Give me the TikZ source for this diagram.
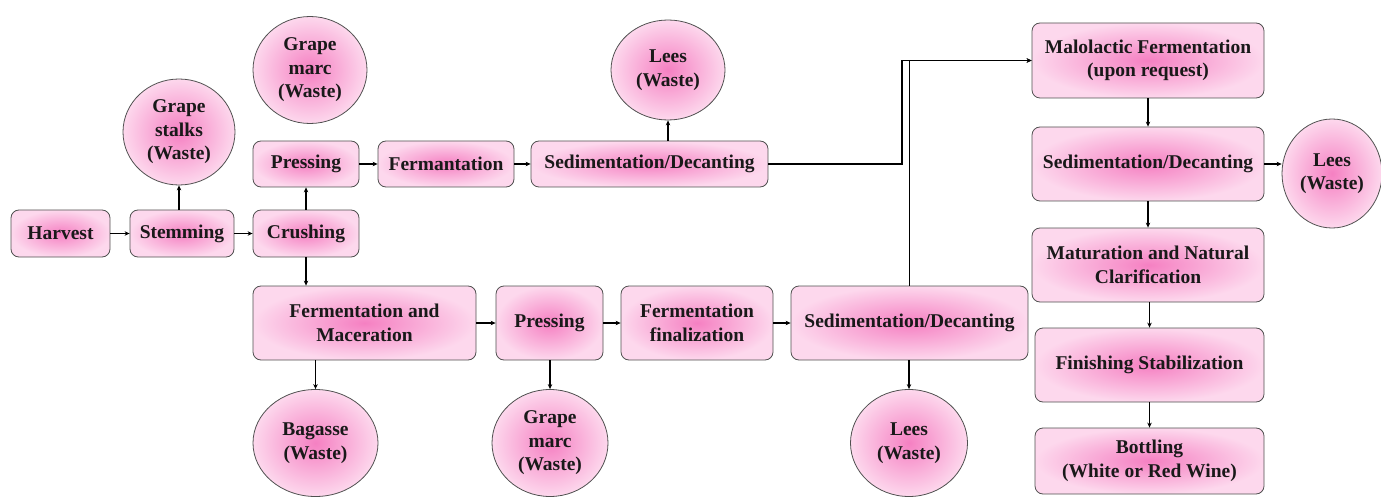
\documentclass[tikz,border=0pt]{standalone}
\usepackage{fontspec}
\setmainfont{Liberation Serif}
\usetikzlibrary{arrows.meta,shapes.geometric,calc}
\definecolor{pinkin}{RGB}{245,128,194}
\definecolor{pinkout}{RGB}{253,216,237}
\definecolor{edgegray}{RGB}{80,80,80}
\begin{document}
\begin{tikzpicture}[x=1pt,y=-1pt,
  every node/.style={font=\fontsize{19.5}{23.5}\selectfont\bfseries, align=center, inner sep=0pt, text=black!90},
  stepbox/.style={rectangle, rounded corners=8pt, draw=edgegray, line width=0.8pt,
     inner color=pinkin, outer color=pinkout},
  waste/.style={ellipse, draw=edgegray, line width=0.8pt, inner color=pinkin, outer color=pinkout},
  arr/.style={line width=1.6pt, -{Stealth[length=5pt,width=4.5pt]}},
  ln/.style={line width=1.6pt}]
\useasboundingbox (0,0) rectangle (1381,497);
% boxes
\node[stepbox, minimum width=99, minimum height=47] (harvest) at (60.5,233.5) {Harvest};
\node[stepbox, minimum width=104, minimum height=47] (stem) at (182,233.5) {Stemming};
\node[stepbox, minimum width=106, minimum height=47] (crush) at (306,233.5) {Crushing};
\node[stepbox, minimum width=106, minimum height=46] (pressT) at (306,164) {Pressing};
\node[stepbox, minimum width=136, minimum height=46] (ferm) at (446,164) {Fermantation};
\node[stepbox, minimum width=237, minimum height=46] (sedT) at (649.5,164) {Sedimentation/Decanting};
\node[stepbox, minimum width=232, minimum height=75] (malo) at (1148,60.5) {Malolactic Fermentation\\(upon request)};
\node[stepbox, minimum width=232, minimum height=74] (sedR) at (1148,164) {Sedimentation/Decanting};
\node[stepbox, minimum width=232, minimum height=74] (mat) at (1148,265) {Maturation and Natural\\Clarification};
\node[stepbox, minimum width=229, minimum height=74] (fin) at (1149.5,365) {Finishing Stabilization};
\node[stepbox, minimum width=229, minimum height=66] (bot) at (1149.5,461) {Bottling\\(White or Red Wine)};
\node[stepbox, minimum width=223, minimum height=74] (fermMac) at (364.5,323) {Fermentation and\\Maceration};
\node[stepbox, minimum width=107, minimum height=74] (pressB) at (549.5,323) {Pressing};
\node[stepbox, minimum width=152, minimum height=74] (ferFin) at (697,323) {Fermentation\\finalization};
\node[stepbox, minimum width=237, minimum height=74] (sedB) at (909.5,323) {Sedimentation/Decanting};
% waste circles
\node[waste, minimum width=112, minimum height=106] (stalks) at (179,132) {Grape\\stalks\\(Waste)};
\node[waste, minimum width=114, minimum height=107] (marcT) at (310,70) {Grape\\marc\\(Waste)};
\node[waste, minimum width=114, minimum height=100] (leesT) at (668,70) {Lees\\(Waste)};
\node[waste, minimum width=100, minimum height=109] (leesR) at (1332,173.5) {Lees\\(Waste)};
\node[waste, minimum width=125, minimum height=107] (bagasse) at (315.5,443) {Bagasse\\(Waste)};
\node[waste, minimum width=116, minimum height=107] (marcB) at (550,443) {Grape\\marc\\(Waste)};
\node[waste, minimum width=117, minimum height=107] (leesB) at (909,443) {Lees\\(Waste)};
% connectors
\coordinate (j1) at (902,164);
\draw[arr] (harvest.east) -- (stem.west);
\draw[arr] (stem.east) -- (crush.west);
\draw[arr] (stem.north -| stalks.south) -- (stalks.south);
\draw[arr] (crush.north) -- (pressT.south);
\draw[arr] (pressT.east) -- (ferm.west);
\draw[arr] (ferm.east) -- (sedT.west);
\draw[arr] (sedT.north -| leesT.south) -- (leesT.south);
\draw[arr] (crush.south) -- (crush.south |- fermMac.north);
\draw[arr] (bagasse.north |- fermMac.south) -- (bagasse.north);
\draw[arr] (fermMac.east) -- (pressB.west);
\draw[arr] (pressB.south -| marcB.north) -- (marcB.north);
\draw[arr] (pressB.east) -- (ferFin.west);
\draw[arr] (ferFin.east) -- (sedB.west);
\draw[arr] (sedB.south -| leesB.north) -- (leesB.north);
\draw[arr] (sedB.north) |- (malo.west);
\draw[arr] (sedT.east) -- (j1) |- (malo.west);
\draw[arr] (malo.south) -- (sedR.north);
\draw[arr] (sedR.east) -- (sedR.east -| leesR.west);
\draw[arr] (sedR.south) -- (mat.north);
\draw[arr] (mat.south -| fin.north) -- (fin.north);
\draw[arr] (fin.south) -- (bot.north);
\end{tikzpicture}
\end{document}
